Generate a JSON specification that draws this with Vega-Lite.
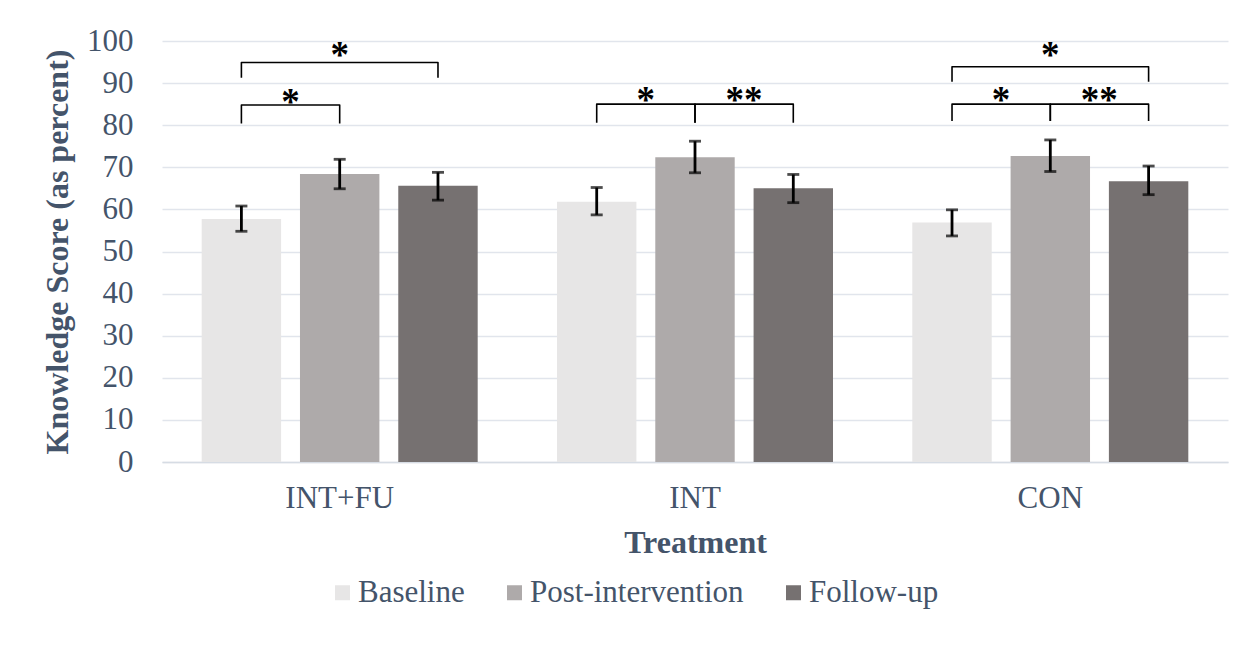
{
  "$schema": "https://vega.github.io/schema/vega-lite/v6.json",
  "width": 1066,
  "height": 421,
  "autosize": {"type": "none"},
  "padding": {"left": 162, "top": 41, "right": 24, "bottom": 195},
  "background": "white",
  "config": {
    "view": {"stroke": null},
    "font": "Liberation Serif"
  },
  "datasets": {
    "bars": [
      {"g": "INT+FU", "s": "Baseline", "v": 57.7, "lo": 54.8, "hi": 60.8},
      {"g": "INT+FU", "s": "Post-intervention", "v": 68.4, "lo": 64.9, "hi": 71.9},
      {"g": "INT+FU", "s": "Follow-up", "v": 65.6, "lo": 62.2, "hi": 68.8},
      {"g": "INT", "s": "Baseline", "v": 61.8, "lo": 58.7, "hi": 65.2},
      {"g": "INT", "s": "Post-intervention", "v": 72.4, "lo": 68.7, "hi": 76.2},
      {"g": "INT", "s": "Follow-up", "v": 65.0, "lo": 61.6, "hi": 68.3},
      {"g": "CON", "s": "Baseline", "v": 56.9, "lo": 53.7, "hi": 59.9},
      {"g": "CON", "s": "Post-intervention", "v": 72.7, "lo": 69.0, "hi": 76.5},
      {"g": "CON", "s": "Follow-up", "v": 66.7, "lo": 63.5, "hi": 70.3}
    ],
    "brackets": [
      {"id": "a", "g": "INT+FU", "s": "Baseline", "y": 80.4, "k": 1},
      {"id": "a", "g": "INT+FU", "s": "Baseline", "y": 84.8, "k": 2},
      {"id": "a", "g": "INT+FU", "s": "Post-intervention", "y": 84.8, "k": 3},
      {"id": "a", "g": "INT+FU", "s": "Post-intervention", "y": 80.4, "k": 4},
      {"id": "b", "g": "INT+FU", "s": "Baseline", "y": 91.3, "k": 1},
      {"id": "b", "g": "INT+FU", "s": "Baseline", "y": 94.9, "k": 2},
      {"id": "b", "g": "INT+FU", "s": "Follow-up", "y": 94.9, "k": 3},
      {"id": "b", "g": "INT+FU", "s": "Follow-up", "y": 91.3, "k": 4},
      {"id": "c", "g": "INT", "s": "Baseline", "y": 80.6, "k": 1},
      {"id": "c", "g": "INT", "s": "Baseline", "y": 85.0, "k": 2},
      {"id": "c", "g": "INT", "s": "Post-intervention", "y": 85.0, "k": 3},
      {"id": "c", "g": "INT", "s": "Post-intervention", "y": 80.6, "k": 4},
      {"id": "d", "g": "INT", "s": "Post-intervention", "y": 80.6, "k": 1},
      {"id": "d", "g": "INT", "s": "Post-intervention", "y": 85.0, "k": 2},
      {"id": "d", "g": "INT", "s": "Follow-up", "y": 85.0, "k": 3},
      {"id": "d", "g": "INT", "s": "Follow-up", "y": 80.6, "k": 4},
      {"id": "e", "g": "CON", "s": "Baseline", "y": 90.3, "k": 1},
      {"id": "e", "g": "CON", "s": "Baseline", "y": 93.9, "k": 2},
      {"id": "e", "g": "CON", "s": "Follow-up", "y": 93.9, "k": 3},
      {"id": "e", "g": "CON", "s": "Follow-up", "y": 90.3, "k": 4},
      {"id": "f", "g": "CON", "s": "Baseline", "y": 81.0, "k": 1},
      {"id": "f", "g": "CON", "s": "Baseline", "y": 85.0, "k": 2},
      {"id": "f", "g": "CON", "s": "Post-intervention", "y": 85.0, "k": 3},
      {"id": "f", "g": "CON", "s": "Post-intervention", "y": 81.0, "k": 4},
      {"id": "h", "g": "CON", "s": "Post-intervention", "y": 81.0, "k": 1},
      {"id": "h", "g": "CON", "s": "Post-intervention", "y": 85.0, "k": 2},
      {"id": "h", "g": "CON", "s": "Follow-up", "y": 85.0, "k": 3},
      {"id": "h", "g": "CON", "s": "Follow-up", "y": 81.0, "k": 4}
    ],
    "stars": [
      {"g": "INT+FU", "s": "Baseline", "y": 87.2, "t": "*", "span": "adj"},
      {"g": "INT+FU", "s": "Post-intervention", "y": 98.3, "t": "*", "span": "wide"},
      {"g": "INT", "s": "Baseline", "y": 87.6, "t": "*", "span": "adj"},
      {"g": "INT", "s": "Post-intervention", "y": 87.6, "t": "**", "span": "adj"},
      {"g": "CON", "s": "Baseline", "y": 87.6, "t": "*", "span": "adj"},
      {"g": "CON", "s": "Post-intervention", "y": 87.6, "t": "**", "span": "adj"},
      {"g": "CON", "s": "Post-intervention", "y": 98.3, "t": "*", "span": "wide"}
    ]
  },
  "encoding": {
    "x": {
      "field": "g",
      "type": "nominal",
      "sort": ["INT+FU", "INT", "CON"],
      "scale": {"domain": ["INT+FU", "INT", "CON"], "paddingInner": 0.2232, "paddingOuter": 0.1117},
      "axis": {
        "title": "Treatment",
        "titleFont": "Liberation Serif",
        "titleFontWeight": "bold",
        "titleFontSize": 32,
        "titleColor": "#44546A",
        "titlePadding": 14,
        "labelFont": "Liberation Serif",
        "labelFontSize": 31,
        "labelColor": "#44546A",
        "labelAngle": 0,
        "labelPadding": 21,
        "ticks": false,
        "domainColor": "#D6DCE4",
        "domainWidth": 1.5,
        "grid": false
      }
    },
    "xOffset": {
      "field": "s",
      "type": "nominal",
      "scale": {"domain": ["Baseline", "Post-intervention", "Follow-up"], "paddingInner": 0.192, "paddingOuter": 0}
    }
  },
  "layer": [
    {
      "data": {"name": "bars"},
      "mark": {"type": "bar"},
      "encoding": {
        "y": {
          "field": "v",
          "type": "quantitative",
          "scale": {"domain": [0, 100], "nice": false},
          "axis": {
            "title": "Knowledge Score (as percent)",
            "titleFont": "Liberation Serif",
            "titleFontWeight": "bold",
            "titleFontSize": 32,
            "titleColor": "#44546A",
            "titlePadding": 12,
            "labelFont": "Liberation Serif",
            "labelFontSize": 31,
            "labelColor": "#44546A",
            "labelPadding": 29,
            "values": [0, 10, 20, 30, 40, 50, 60, 70, 80, 90, 100],
            "ticks": false,
            "domain": false,
            "grid": true,
            "gridColor": "#E1E5EC",
            "gridWidth": 1.5
          }
        },
        "color": {
          "field": "s",
          "type": "nominal",
          "sort": ["Baseline", "Post-intervention", "Follow-up"],
          "scale": {"domain": ["Baseline", "Post-intervention", "Follow-up"], "range": ["#E7E6E6", "#AEAAAA", "#767171"]},
          "legend": {
            "title": null,
            "orient": "none",
            "direction": "horizontal",
            "legendX": 165,
            "legendY": 536,
            "symbolType": "square",
            "symbolSize": 225,
            "symbolStrokeWidth": 0,
            "labelFont": "Liberation Serif",
            "labelFontSize": 31,
            "labelColor": "#44546A",
            "labelOffset": 0,
            "labelLimit": 0,
            "columnPadding": 34
          }
        }
      }
    },
    {
      "data": {"name": "bars"},
      "mark": {"type": "rule", "color": "black", "strokeWidth": 2.8},
      "encoding": {
        "y": {"field": "lo", "type": "quantitative"},
        "y2": {"field": "hi"}
      }
    },
    {
      "data": {"name": "bars"},
      "mark": {"type": "tick", "color": "black", "orient": "horizontal", "size": 12, "thickness": 2.8},
      "encoding": {"y": {"field": "lo", "type": "quantitative"}}
    },
    {
      "data": {"name": "bars"},
      "mark": {"type": "tick", "color": "black", "orient": "horizontal", "size": 12, "thickness": 2.8},
      "encoding": {"y": {"field": "hi", "type": "quantitative"}}
    },
    {
      "data": {"name": "brackets"},
      "mark": {"type": "line", "color": "black", "strokeWidth": 1.6, "strokeJoin": "round"},
      "encoding": {
        "y": {"field": "y", "type": "quantitative"},
        "detail": {"field": "id"},
        "order": {"field": "k"}
      }
    },
    {
      "data": {"name": "stars"},
      "transform": [{"filter": "datum.span === 'adj'"}],
      "mark": {"type": "text", "font": "Liberation Serif", "fontWeight": "bold", "fontSize": 37, "color": "black", "baseline": "alphabetic", "align": "center", "dx": 49, "dy": 19},
      "encoding": {
        "y": {"field": "y", "type": "quantitative"},
        "text": {"field": "t"}
      }
    },
    {
      "data": {"name": "stars"},
      "transform": [{"filter": "datum.span === 'wide'"}],
      "mark": {"type": "text", "font": "Liberation Serif", "fontWeight": "bold", "fontSize": 37, "color": "black", "baseline": "alphabetic", "align": "center", "dy": 19},
      "encoding": {
        "y": {"field": "y", "type": "quantitative"},
        "text": {"field": "t"}
      }
    }
  ]
}
